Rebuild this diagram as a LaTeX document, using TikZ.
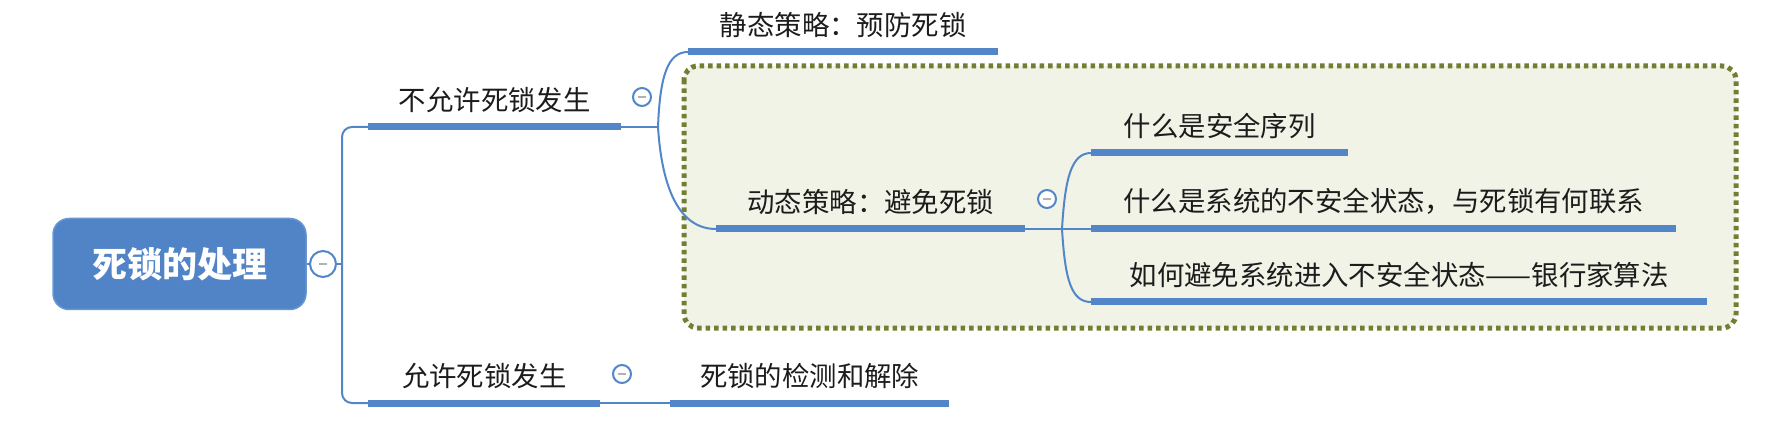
\documentclass[tikz,border=0pt]{standalone}
\usepackage{fontspec}
\setmainfont{Noto Sans CJK SC}
\usetikzlibrary{positioning}
\definecolor{mapblue}{RGB}{82,134,201}
\definecolor{rootblue}{RGB}{80,132,199}
\definecolor{zonefill}{RGB}{241,243,231}
\definecolor{zonedot}{RGB}{112,127,52}
\definecolor{ink}{RGB}{28,28,28}
\tikzstyle{topic}=[anchor=south west,inner sep=0pt,minimum height=54pt,text=ink,font=\fontsize{27.4}{32}\selectfont]
\tikzstyle{rootbox}=[rectangle,rounded corners=16pt,fill=rootblue,draw=rootblue!85!white,line width=1.5pt,minimum width=253pt,minimum height=91pt,text=white,font=\fontsize{35}{40}\selectfont\bfseries]
\tikzstyle{link}=[draw=mapblue,line width=2pt]
\tikzstyle{uline}=[draw=mapblue,line width=7pt]
\tikzstyle{fold}=[circle,draw=mapblue,line width=2pt,fill=white,inner sep=0pt,minimum size=18pt,
  path picture={\draw[gray!60,line width=2.5pt] ([xshift=-4pt]path picture bounding box.center) -- ([xshift=4pt]path picture bounding box.center);}]
\tikzstyle{bigfold}=[fold,minimum size=26pt]
\tikzstyle{zone}=[draw=zonedot,fill=zonefill,line width=5pt,dash pattern=on 4.5pt off 4pt,rounded corners=14pt]
\begin{document}
\begin{tikzpicture}[x=1pt,y=-1pt]
\useasboundingbox (0,0) rectangle (1776,427);
% boundary round the avoidance branch
\draw[zone] (684,66) rectangle (1736,328);
\node[rootbox] (root) at (179.5,264) {死锁的处理};
\node[topic,minimum width=253pt] (forbid) at (368,127) {不允许死锁发生};
\node[topic,minimum width=310pt] (static) at (688,52) {静态策略：预防死锁};
\node[topic,minimum width=309pt] (dynamic) at (716,229) {动态策略：避免死锁};
\node[topic,minimum width=257pt] (q1) at (1091,153) {什么是安全序列};
\node[topic,minimum width=585pt] (q2) at (1091,229) {什么是系统的不安全状态，与死锁有何联系};
\node[topic,minimum width=616pt] (q3) at (1091,302) {如何避免系统进入不安全状态——银行家算法};
\node[topic,minimum width=232pt] (allow) at (368,403) {允许死锁发生};
\node[topic,minimum width=279pt] (detect) at (670,403) {死锁的检测和解除};
\coordinate (trunk) at (342,264);
\coordinate (split1) at (658,127);
\coordinate (split2) at (1062,229);
% connectors
\draw[link] (root.east) -- (trunk);
\draw[link,rounded corners=10pt] (forbid.south west) -| (trunk) |- (allow.south west);
\draw[link] (forbid.south east) -- (split1);
\draw[link] (split1) .. controls +(2,-52) and +(-20,0) .. (static.south west);
\draw[link] (split1) .. controls +(4,63) and +(-36,0) .. (dynamic.south west);
\draw[link] (dynamic.south east) -- (q2.south west);
\draw[link] (split2) .. controls +(3,-50) and +(-20,0) .. (q1.south west);
\draw[link] (split2) .. controls +(3,50) and +(-20,0) .. (q3.south west);
\draw[link] (allow.south east) -- (detect.south west);
\foreach \n in {forbid,static,dynamic,q1,q2,q3,allow,detect}
  \draw[uline] (\n.south west) -- (\n.south east);
% collapse buttons
\node[bigfold] (rootfold) at (323,264) {};
\node[fold] (forbidfold) at (642,97) {};
\node[fold] (dynfold) at (1047,199) {};
\node[fold] (allowfold) at (622,374) {};
\end{tikzpicture}
\end{document}
